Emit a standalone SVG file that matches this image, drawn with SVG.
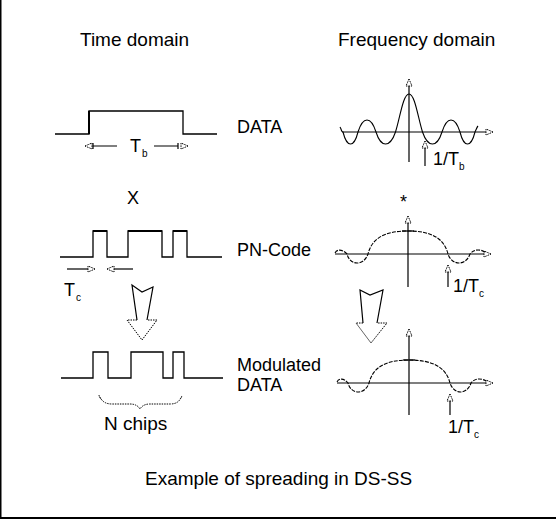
<svg xmlns="http://www.w3.org/2000/svg" xmlns:xlink="http://www.w3.org/1999/xlink" width="556" height="520" viewBox="0 0 556 520">
<style>
  text { font-family: "Liberation Sans", Arial, sans-serif; fill: #000; }
  .t { font-size: 19px; }
  .lbl { font-size: 18px; }
  .sub { font-size: 10px; }
  .ln { fill: none; stroke: #000; stroke-width: 1.2; }
  .wave { fill: none; stroke: #000; stroke-width: 1.3; }
  .dot { fill: #fff; stroke: #000; stroke-width: 1; stroke-dasharray: 1.5 1; }
  .curve { fill: none; stroke: #000; stroke-width: 1.1; }
  .dcurve { fill: none; stroke: #000; stroke-width: 1.1; stroke-dasharray: 4 1.2; }
</style>
<defs>
  <path id="ahUp" d="M0,0 L-3,7 L3,7 Z"/>
  <path id="ahRight" d="M0,0 L-7,-3 L-7,3 Z"/>
  <path id="ahLeft" d="M0,0 L7,-3 L7,3 Z"/>
</defs>
<rect width="556" height="520" fill="#fff"/>
<g id="border">
  <line x1="0.5" y1="0" x2="0.5" y2="518" stroke="#000" stroke-width="2"/>
  <line x1="0" y1="518" x2="556" y2="518" stroke="#000" stroke-width="2"/>
</g>
<g id="titles">
  <text class="t" x="80" y="46">Time domain</text>
  <text class="t" x="338" y="46">Frequency domain</text>
  <text class="t" x="145" y="485">Example of spreading in DS-SS</text>
</g>
<g id="data-time">
  <path class="wave" d="M55,134 H89 V111 H183 V134 H217"/>
  <line x1="89" y1="111" x2="89" y2="134" stroke="#000" stroke-width="2"/>
  <use xlink:href="#ahLeft" x="85" y="146" class="dot"/>
  <path class="ln" d="M93,146 H117 M93,143 V149 M154,146 H178 M178,143 V149"/>
  <use xlink:href="#ahRight" x="188" y="146" class="dot"/>
  <text class="lbl" x="130" y="152">T</text>
  <text class="sub" x="142" y="157">b</text>
  <text class="lbl" x="237" y="133">DATA</text>
</g>
<g id="data-freq">
  <path class="ln" d="M409,84 V162 M342,132 H486"/>
  <use xlink:href="#ahUp" x="409" y="79" class="dot"/>
  <use xlink:href="#ahRight" x="493" y="132" class="dot"/>
  <path class="curve" d="M340,127 C342,130 341,132 343,132 C347,148 354,148 358,132 C363,116 371,116 376,132 C381,148 390,148 395.5,132 C400,118 403,94 409,94 C415,94 418,118 422.5,132 C428,148 437,148 442,132 C447,116 455,116 460,132 C464,148 471,148 475,132 C476,130 477,127 478,126"/>
  <use xlink:href="#ahUp" x="425" y="141" class="dot"/>
  <line class="ln" x1="425" y1="148" x2="425" y2="166"/>
  <text class="lbl" x="433" y="165">1/T</text>
  <text class="sub" x="459" y="170">b</text>
</g>
<g id="ops">
  <text class="lbl" x="127" y="204">X</text>
  <text class="lbl" x="400" y="208">*</text>
</g>
<g id="pn-time">
  <path class="wave" d="M60,257 H93 V231 H107 V257 H128 V231 H162 V257 H173 V231 H187 V257 H222"/>
  <path d="M93,231 H107 M128,231 H162 M173,231 H187" stroke="#000" stroke-width="2" fill="none"/>
  <line class="ln" x1="67" y1="269" x2="88" y2="269"/>
  <use xlink:href="#ahRight" x="95" y="269" class="dot"/>
  <use xlink:href="#ahLeft" x="107" y="269" class="dot"/>
  <line class="ln" x1="114" y1="269" x2="133" y2="269"/>
  <text class="lbl" x="64" y="296">T</text>
  <text class="sub" x="76" y="301">c</text>
  <text class="lbl" x="237" y="256">PN-Code</text>
</g>
<g id="pn-freq">
  <path class="ln" d="M408,222 V287 M335,254 H484"/>
  <use xlink:href="#ahUp" x="408" y="216" class="dot"/>
  <use xlink:href="#ahRight" x="491" y="254" class="dot"/>
  <line class="ln" x1="402" y1="231" x2="414" y2="231"/>
  <path class="dcurve" d="M335,253 C337,249 342,249 347,254 C350,266 364,266 368,254 C372,238 385,231 408,231 C431,231 444,238 448,254 C452,266 466,266 470,254 C474,249 480,249 485,252"/>
  <use xlink:href="#ahUp" x="448" y="265" class="dot"/>
  <line class="ln" x1="448" y1="272" x2="448" y2="287"/>
  <text class="lbl" x="453" y="292">1/T</text>
  <text class="sub" x="479" y="297">c</text>
</g>
<g id="arrow-left">
  <path class="ln" d="M137,320 L132,285 L142,292 L153,287 L147,320"/>
  <path class="dot" fill="none" d="M137,320 L127,320 L142,340 L157,320 L147,320"/>
</g>
<g id="arrow-right">
  <path class="ln" d="M363,323 L360,290 L370,295 L383,290 L377,323"/>
  <path class="dot" fill="none" d="M363,323 L356,323 L371,343 L387,323 L377,323"/>
</g>
<g id="mod-time">
  <path class="wave" d="M61,378 H93 V352 H108 V378 H131 V352 H163 V378 H173 V352 H184 V378 H223"/>
  <path class="dot" fill="none" d="M99,395 Q100,402 110,401 L130,401 Q138,401 140,408 Q142,401 150,401 L172,401 Q181,402 182,395"/>
  <path class="dot" fill="none" d="M100,397 Q103,404 112,404 L130,404 Q137,404 140,409 Q143,404 150,404 L170,404 Q179,404 181,397"/>
  <text class="lbl" x="104" y="430" style="font-size:19px">N chips</text>
  <text class="lbl" x="237" y="371">Modulated</text>
  <text class="lbl" x="237" y="391">DATA</text>
</g>
<g id="mod-freq">
  <path class="ln" d="M409,335 V415 M337,383 H486"/>
  <use xlink:href="#ahUp" x="409" y="329" class="dot"/>
  <use xlink:href="#ahRight" x="493" y="383" class="dot"/>
  <line class="ln" x1="403" y1="360" x2="415" y2="360"/>
  <path class="dcurve" d="M337,382 C339,378 344,378 348,383 C351,395 365,395 369,383 C373,367 386,360 409,360 C432,360 446,367 450,383 C454,395 467,395 471,383 C475,378 481,378 486,381"/>
  <use xlink:href="#ahUp" x="450" y="394" class="dot"/>
  <line class="ln" x1="450" y1="401" x2="450" y2="415"/>
  <text class="lbl" x="448" y="433">1/T</text>
  <text class="sub" x="474" y="438">c</text>
</g>
</svg>
